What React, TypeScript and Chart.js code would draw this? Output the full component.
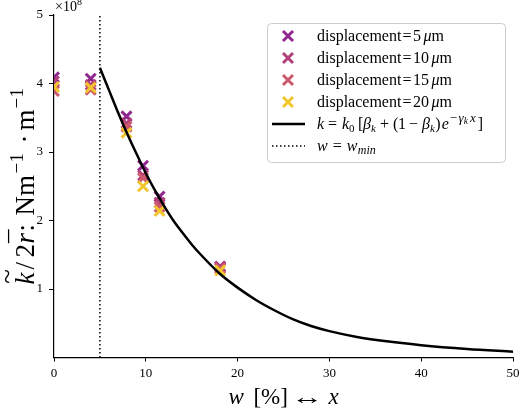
import { useEffect, useRef } from 'react';
import { Chart, registerables } from 'chart.js';

Chart.register(...registerables);

// Measured stiffness per unit radius, in units of 1e8 N m^-1 m^-1
const widthPct = [0, 4, 7.9, 9.7, 11.5, 18.1];
const stiff5um = [4.09, 4.07, 3.52, 2.8, 2.35, 1.33];
const stiff10um = [4.03, 3.98, 3.42, 2.66, 2.26, 1.32];
const stiff15um = [3.89, 3.91, 3.37, 2.62, 2.2, 1.3];
const stiff20um = [3.95, 3.94, 3.28, 2.5, 2.14, 1.27];
const displacementLabels = ['5', '10', '15', '20'];
const seriesColors = ['#90278f', '#b3407b', '#cd5a6c', '#f3c62d'];

// Fitted decay curve k = k0[beta + (1 - beta) e^{-gamma x}]
const fitX = [5, 6, 7, 8, 9, 10, 11, 12, 13, 14, 15, 16, 18, 20, 22, 24, 26, 28, 30, 33, 36, 40, 45, 50];
const fitY = [4.23, 3.9, 3.57, 3.26, 2.97, 2.69, 2.44, 2.21, 2.0, 1.82, 1.65, 1.5, 1.23, 1.02, 0.84, 0.69, 0.56, 0.46, 0.385, 0.3, 0.24, 0.18, 0.125, 0.085];

const wMin = 5;
const xTicks = [0, 10, 20, 30, 40, 50];
const yTicks = [1, 2, 3, 4, 5];

const FAMILY = '"Liberation Serif", "DejaVu Serif", serif';

// Rich text segment: `at` places it at a fixed offset from the run start,
// otherwise it follows the previous segment (plus `dx`).
type Seg = {
  t: string;
  size: number;
  it?: boolean;
  dy?: number;
  dx?: number;
  at?: number;
  sx?: number;
  accent?: string;
  accDy?: number;
};

function fontOf(s: Seg) {
  return `${s.it ? 'italic ' : ''}${s.size}px ${FAMILY}`;
}

function runWidth(ctx: CanvasRenderingContext2D, segs: Seg[]) {
  let cx = 0;
  let end = 0;
  segs.forEach((s) => {
    ctx.font = fontOf(s);
    const w = ctx.measureText(s.t).width * (s.sx || 1);
    const px = s.at !== undefined ? s.at : cx + (s.dx || 0);
    cx = px + w;
    end = Math.max(end, cx);
  });
  return end;
}

function drawRich(ctx: CanvasRenderingContext2D, segs: Seg[], x: number, y: number, align: 'left' | 'center') {
  const total = runWidth(ctx, segs);
  const start = align === 'center' ? x - total / 2 : x;
  ctx.textBaseline = 'alphabetic';
  ctx.textAlign = 'left';
  let cx = 0;
  segs.forEach((s) => {
    ctx.font = fontOf(s);
    const gw = ctx.measureText(s.t).width;
    const sx = s.sx || 1;
    const off = s.at !== undefined ? s.at : cx + (s.dx || 0);
    const px = start + off;
    ctx.save();
    ctx.translate(px, y + (s.dy || 0));
    ctx.scale(sx, 1);
    ctx.fillText(s.t, 0, 0);
    ctx.restore();
    if (s.accent) {
      ctx.font = `${s.size}px ${FAMILY}`;
      const aw = ctx.measureText(s.accent).width;
      ctx.fillText(s.accent, px + gw / 2 - aw / 2 + s.size * 0.08, y + (s.dy || 0) + (s.accDy || 0));
    }
    cx = off + gw * sx;
  });
}

function drawCross(ctx: CanvasRenderingContext2D, x: number, y: number, r: number, color: string) {
  ctx.save();
  ctx.strokeStyle = color;
  ctx.lineWidth = 3;
  ctx.beginPath();
  ctx.moveTo(x - r, y - r);
  ctx.lineTo(x + r, y + r);
  ctx.moveTo(x - r, y + r);
  ctx.lineTo(x + r, y - r);
  ctx.stroke();
  ctx.restore();
}

const annotations = {
  id: 'annotations',
  afterDraw(chart: Chart) {
    const ctx = chart.ctx;
    const area = chart.chartArea;
    ctx.save();
    ctx.fillStyle = '#000';

    // axis multiplier
    drawRich(ctx, [
      { t: '\u00d710', size: 14 },
      { t: '8', size: 10, dy: -6 },
    ], area.left + 1, 11, 'left');

    // x-axis title
    drawRich(ctx, [
      { t: 'w', size: 23, it: true, at: 0 },
      { t: '[%]', size: 23, at: 25 },
      { t: '\u2194', size: 22, at: 63, sx: 1.45 },
      { t: 'x', size: 23, it: true, at: 100 },
    ], (area.left + area.right) / 2, 404, 'center');

    // y-axis title, centred on the plot area
    ctx.save();
    ctx.translate(34, (area.top + area.bottom) / 2);
    ctx.rotate(-Math.PI / 2);
    drawRich(ctx, [
      { t: 'k', size: 27, it: true, accent: '~', accDy: -18, at: 0 },
      { t: '/', size: 27, at: 15 },
      { t: '2', size: 27, at: 27 },
      { t: 'r', size: 27, it: true, accent: '\u00af', accDy: -5, at: 41 },
      { t: ':', size: 27, at: 53 },
      { t: 'Nm', size: 27, at: 69 },
      { t: '\u2212', size: 19, dy: -11, at: 111 },
      { t: '1', size: 19, dy: -11, dx: 0.5 },
      { t: '\u00b7', size: 27, at: 141 },
      { t: 'm', size: 27, at: 154 },
      { t: '\u2212', size: 19, dy: -11, at: 176 },
      { t: '1', size: 19, dy: -11, dx: 0.5 },
    ], 0, 0, 'center');
    ctx.restore();

    // legend
    const lx = 267, ly = 23, lw = 238, lh = 139;
    ctx.beginPath();
    ctx.roundRect(lx + 0.5, ly + 0.5, lw, lh, 4);
    ctx.fillStyle = 'rgba(255,255,255,0.85)';
    ctx.fill();
    ctx.strokeStyle = '#cccccc';
    ctx.lineWidth = 1;
    ctx.stroke();
    ctx.fillStyle = '#000';

    const rows = [36, 58, 80, 102, 124, 146];
    const tx = 317;
    displacementLabels.forEach((d, i) => {
      const ry = rows[i];
      drawCross(ctx, 288, ry, 5, seriesColors[i]);
      ctx.fillStyle = '#000';
      drawRich(ctx, [
        { t: 'displacement', size: 16 },
        { t: '=', size: 16, dx: 1 },
        { t: d, size: 16, dx: 1.5 },
        { t: '\u03bc', size: 16, it: true, dx: 2.5 },
        { t: 'm', size: 16 },
      ], tx, ry + 5, 'left');
    });

    // fit line sample
    ctx.strokeStyle = '#000';
    ctx.lineWidth = 2.5;
    ctx.beginPath();
    ctx.moveTo(272, rows[4]);
    ctx.lineTo(305, rows[4]);
    ctx.stroke();
    drawRich(ctx, [
      { t: 'k', size: 16, it: true, at: 0 },
      { t: '=', size: 16, at: 11 },
      { t: 'k', size: 16, it: true, at: 25 },
      { t: '0', size: 11, dy: 3 },
      { t: '[', size: 16, at: 41 },
      { t: '\u03b2', size: 16, it: true, at: 46 },
      { t: 'k', size: 11, it: true, dy: 3 },
      { t: '+', size: 16, at: 63 },
      { t: '(', size: 16, at: 76 },
      { t: '1', size: 16, at: 81 },
      { t: '\u2212', size: 16, at: 92 },
      { t: '\u03b2', size: 16, it: true, at: 105 },
      { t: 'k', size: 11, it: true, dy: 3 },
      { t: ')', size: 16, dx: 0.5 },
      { t: 'e', size: 16, it: true, dx: 1 },
      { t: '\u2212', size: 13, dy: -7, dx: 1 },
      { t: '\u03b3', size: 13, it: true, dy: -7, dx: 1.5 },
      { t: 'k', size: 9.5, it: true, dy: -5 },
      { t: 'x', size: 13, it: true, dy: -7, dx: 2 },
      { t: ']', size: 16, dx: 2 },
    ], tx, rows[4] + 5, 'left');

    // w_min line sample
    ctx.lineWidth = 1.5;
    ctx.setLineDash([1.5, 2.5]);
    ctx.beginPath();
    ctx.moveTo(272, rows[5]);
    ctx.lineTo(305, rows[5]);
    ctx.stroke();
    ctx.setLineDash([]);
    drawRich(ctx, [
      { t: 'w', size: 16, it: true },
      { t: '=', size: 16, dx: 5 },
      { t: 'w', size: 16, it: true, dx: 5 },
      { t: 'min', size: 12, it: true, dy: 3, dx: 0.5 },
    ], tx, rows[5] + 5, 'left');

    ctx.restore();
  },
};

export default function App() {
  const ref = useRef<HTMLCanvasElement | null>(null);

  useEffect(() => {
    const canvas = ref.current;
    if (!canvas) return;
    const series = [stiff5um, stiff10um, stiff15um, stiff20um];
    const chart = new Chart(canvas, {
      type: 'scatter',
      data: {
        datasets: [
          {
            label: 'w = w_min',
            data: [{ x: wMin, y: 0 }, { x: wMin, y: 5 }],
            showLine: true,
            borderColor: '#000',
            borderWidth: 1.5,
            borderDash: [1.5, 2.5],
            pointRadius: 0,
            order: 0,
          },
          {
            label: 'fit',
            data: fitX.map((x, i) => ({ x, y: fitY[i] })),
            showLine: true,
            borderColor: '#000',
            borderWidth: 2.5,
            pointRadius: 0,
            cubicInterpolationMode: 'monotone',
            order: 1,
          },
          ...series.map((vals, i) => ({
            label: `displacement=${displacementLabels[i]}\u03bcm`,
            data: widthPct.map((x, j) => ({ x, y: vals[j] })),
            showLine: false,
            pointStyle: 'crossRot' as const,
            pointRadius: 7,
            borderWidth: 3,
            borderColor: seriesColors[i],
            backgroundColor: seriesColors[i],
            clip: 0,
            order: 5 - i,
          })),
        ],
      },
      options: {
        responsive: false,
        animation: false,
        devicePixelRatio: 1,
        layout: { autoPadding: false, padding: { top: 15, right: 7, left: 0, bottom: 0 } },
        plugins: { legend: { display: false }, tooltip: { enabled: false } },
        scales: {
          x: {
            type: 'linear',
            min: 0,
            max: 50,
            afterBuildTicks: (s: any) => {
              s.ticks = xTicks.map((v) => ({ value: v }));
            },
            afterFit: (s: any) => {
              s.height = 53.5;
              s.paddingLeft = 0;
              s.paddingRight = 0;
            },
            grid: { display: true, drawOnChartArea: false, drawTicks: true, tickLength: 4, color: '#000', lineWidth: 1 },
            border: { display: true, color: '#000', width: 1.2 },
            ticks: { color: '#000', font: { family: FAMILY, size: 13 }, padding: 4, maxRotation: 0 },
          },
          y: {
            type: 'linear',
            min: 0,
            max: 5,
            afterBuildTicks: (s: any) => {
              s.ticks = yTicks.map((v) => ({ value: v }));
            },
            afterFit: (s: any) => {
              s.width = 54;
              s.paddingTop = 0;
              s.paddingBottom = 0;
            },
            grid: { display: true, drawOnChartArea: false, drawTicks: true, tickLength: 5, color: '#000', lineWidth: 1 },
            border: { display: true, color: '#000', width: 1.2 },
            ticks: { color: '#000', font: { family: FAMILY, size: 13 }, padding: 6 },
          },
        },
      },
      plugins: [annotations],
    });
    return () => chart.destroy();
  }, []);

  return (
    <div style={{ position: 'absolute', left: 0, top: 0, width: 520, height: 411, background: '#fff' }}>
      <canvas ref={ref} width={520} height={411} style={{ width: 520, height: 411, display: 'block' }} />
    </div>
  );
}
